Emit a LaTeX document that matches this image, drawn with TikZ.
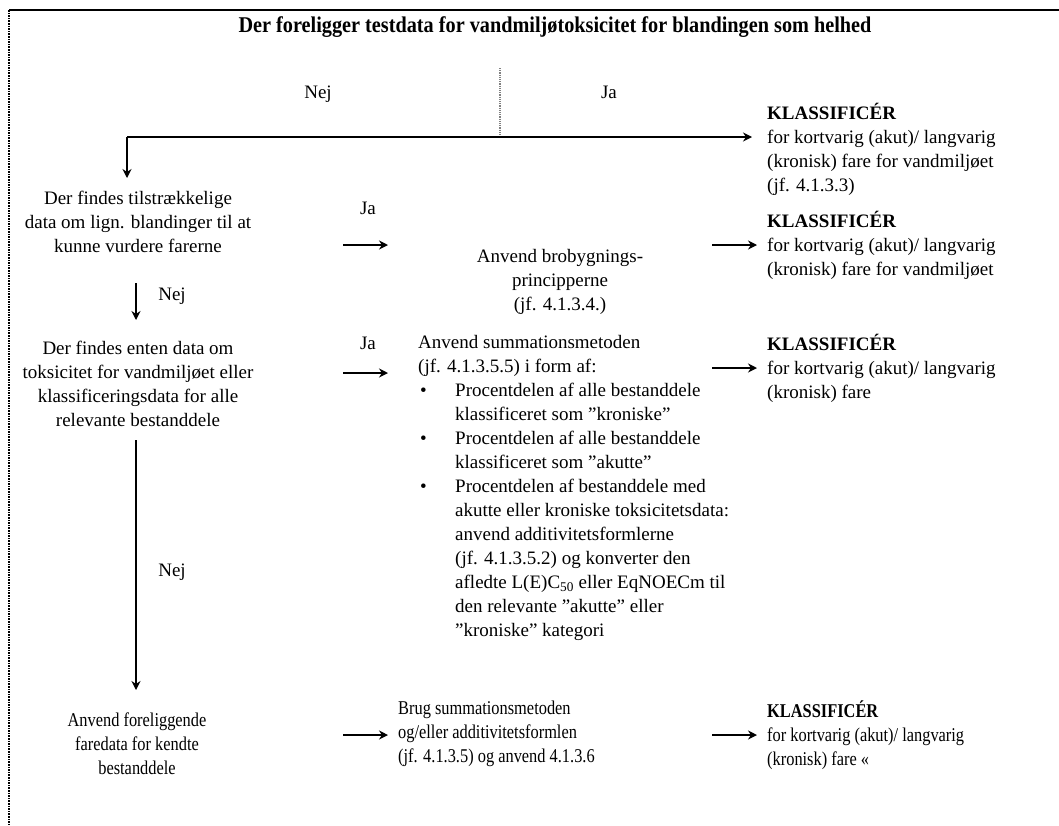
\documentclass[tikz,border=0pt]{standalone}
\usepackage{fontspec}
\setmainfont{Liberation Serif}
\newfontfamily\condfont[FakeStretch=0.84]{Liberation Serif}
\newfontfamily\titlefont[FakeStretch=0.9]{Liberation Serif}
\usetikzlibrary{arrows.meta}
\begin{document}
\begin{tikzpicture}[x=1pt,y=-1pt,
  txt/.style={inner sep=0pt, font=\fontsize{19}{24}\selectfont},
  ctxt/.style={inner sep=0pt, font=\condfont\fontsize{19.5}{24}\selectfont},
  lbl/.style={inner sep=0pt, font=\fontsize{19}{24}\selectfont},
  tip/.style={-{Stealth[length=9pt,width=9pt,inset=3pt]}},
  arr/.style={line width=2.4pt, tip},
  mainline/.style={line width=2pt},
  stem/.style={line width=1.2pt, gray, densely dotted},
  frame/.style={line width=2pt},
  framedot/.style={line width=1.6pt, densely dotted}
]
\useasboundingbox (0,0) rectangle (1059,825);
% frame
\coordinate (f1) at (9,10);
\coordinate (f2) at (1059,10);
\coordinate (f3) at (9,825);
\draw[frame] (f1) -- (f2);
\draw[framedot] (f1) -- (f3);

% title
\node[inner sep=0pt, font=\titlefont\bfseries\fontsize{22.5}{26}\selectfont] (title) at (555,27)
  {Der foreligger testdata for vandmiljøtoksicitet for blandingen som helhed};

\node[lbl] (nej1) at (318,94) {Nej};
\node[lbl] (ja1) at (609,92) {Ja};

% K1
\node[txt, anchor=north west, align=left] (k1) at (767,103)
  {\textbf{KLASSIFICÉR}\\for kortvarig (akut)/ langvarig\\(kronisk) fare for vandmiljøet\\(jf. 4.1.3.3)};

% node A
\node[txt, anchor=north, align=center] (a) at (138,191)
  {Der findes tilstrækkelige\\data om lign. blandinger til at\\kunne vurdere farerne};
\node[lbl] (ja2) at (368,208) {Ja};

% node B
\node[txt, anchor=north, align=center] (b) at (560,249)
  {Anvend brobygnings-\\principperne\\(jf. 4.1.3.4.)};

% K2
\node[txt, anchor=north west, align=left] (k2) at (767,211)
  {\textbf{KLASSIFICÉR}\\for kortvarig (akut)/ langvarig\\(kronisk) fare for vandmiljøet};

\node[lbl] (nej2) at (172,296) {Nej};

% node C
\node[txt, anchor=north, align=center] (c) at (138,341)
  {Der findes enten data om\\toksicitet for vandmiljøet eller\\klassificeringsdata for alle\\relevante bestanddele};
\node[lbl] (ja3) at (368,343) {Ja};

% list node
\node[txt, anchor=north west, align=left] (l) at (418,335)
  {Anvend summationsmetoden\\(jf. 4.1.3.5.5) i form af:\\
   \makebox[37pt][l]{\hspace{2pt}•}Procentdelen af alle bestanddele\\
   \hspace*{37pt}klassificeret som ”kroniske”\\
   \makebox[37pt][l]{\hspace{2pt}•}Procentdelen af alle bestanddele\\
   \hspace*{37pt}klassificeret som ”akutte”\\
   \makebox[37pt][l]{\hspace{2pt}•}Procentdelen af bestanddele med\\
   \hspace*{37pt}akutte eller kroniske toksicitetsdata:\\
   \hspace*{37pt}anvend additivitetsformlerne\\
   \hspace*{37pt}(jf. 4.1.3.5.2) og konverter den\\
   \hspace*{37pt}afledte L(E)C\textsubscript{50} eller EqNOECm til\\
   \hspace*{37pt}den relevante ”akutte” eller\\
   \hspace*{37pt}”kroniske” kategori};

% K3
\node[txt, anchor=north west, align=left] (k3) at (767,334)
  {\textbf{KLASSIFICÉR}\\for kortvarig (akut)/ langvarig\\(kronisk) fare};

\node[lbl] (nej3) at (172,572) {Nej};

% bottom row
\node[ctxt, anchor=north, align=center] (d) at (137,713)
  {Anvend foreliggende\\faredata for kendte\\bestanddele};
\node[ctxt, anchor=north west, align=left] (e) at (398,701)
  {Brug summationsmetoden\\og/eller additivitetsformlen\\(jf. 4.1.3.5) og anvend 4.1.3.6};
\node[ctxt, anchor=north west, align=left] (k4) at (767,701)
  {\textbf{KLASSIFICÉR}\\for kortvarig (akut)/ langvarig\\(kronisk) fare «};

% connectors
\coordinate (s0) at (500,68);
\coordinate (j0) at (500,137);
\coordinate (h0) at (127,137);
\coordinate (h1) at (752,137);
\coordinate (d0) at (127,178);
\draw[stem] (s0) -- (j0);
\draw[mainline, tip] (h0) -- (h1);
\draw[mainline, tip] (h0) -- (d0);

\coordinate (ab0) at (343,245); \coordinate (ab1) at (388,245);
\coordinate (bk0) at (712,245); \coordinate (bk1) at (757,245);
\draw[arr] (ab0) -- (ab1);
\draw[arr] (bk0) -- (bk1);

\coordinate (ac0) at (136,283); \coordinate (ac1) at (136,320);
\draw[mainline, tip] (ac0) -- (ac1);

\coordinate (cl0) at (343,373); \coordinate (cl1) at (388,373);
\coordinate (lk0) at (712,368); \coordinate (lk1) at (757,368);
\draw[arr] (cl0) -- (cl1);
\draw[arr] (lk0) -- (lk1);

\coordinate (cd0) at (136,440); \coordinate (cd1) at (136,690);
\draw[mainline, tip] (cd0) -- (cd1);

\coordinate (de0) at (343,735); \coordinate (de1) at (388,735);
\coordinate (ek0) at (712,735); \coordinate (ek1) at (757,735);
\draw[arr] (de0) -- (de1);
\draw[arr] (ek0) -- (ek1);
\end{tikzpicture}
\end{document}
